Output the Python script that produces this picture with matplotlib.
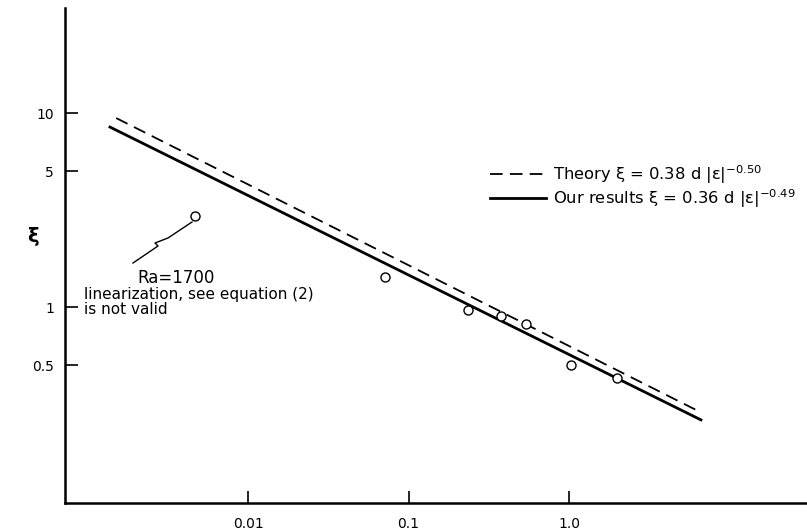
import matplotlib
matplotlib.use("Agg")
import matplotlib.pyplot as plt
from matplotlib.lines import Line2D

plt.rcParams['font.family'] = ['DejaVu Sans']
plt.rcParams['mathtext.default'] = 'regular'

# data
eps_points = [0.00468, 0.0714, 0.235, 0.377, 0.54, 1.03, 1.99]
xi_points = [2.94, 1.43, 0.966, 0.899, 0.817, 0.502, 0.43]

theory_x = [0.00151, 6.55]
theory_y = [9.42, 0.288]
ours_x = [0.00138, 6.64]
ours_y = [8.47, 0.262]

xticks = [0.01, 0.1, 1.0]
xtick_labels = ["0.01", "0.1", "1.0"]
yticks = [0.5, 1, 5, 10]
ytick_labels = ["0.5", "1", "5", "10"]

label_theory = "Theory ξ = 0.38 d |ε|$^{-0.50}$"
label_ours = "Our results ξ = 0.36 d |ε|$^{-0.49}$"
note_title = "Ra=1700"
note_body = "linearization, see equation (2)\nis not valid"

W, H = 807, 531
fig = plt.figure(figsize=(W / 100, H / 100), dpi=100)
ax = fig.add_axes([65 / W, (H - 503) / H, 1 - 65 / W, (503 - 8) / H])
ax.set_xscale('log')
ax.set_yscale('log')
ax.set_xlim(7.24e-4, 30.4)
ax.set_ylim(0.0977, 34.8)

ax.plot(theory_x, theory_y, color='black', lw=1.3, ls=(0, (7, 4)))
ax.plot(ours_x, ours_y, color='black', lw=2.0)
ax.plot(eps_points, xi_points, 'o', mfc='white', mec='black', mew=1.0, ms=6.5, zorder=5)

ax.spines['top'].set_visible(False)
ax.spines['right'].set_visible(False)
for s in ('left', 'bottom'):
    ax.spines[s].set_linewidth(1.8)

ax.minorticks_off()
ax.set_xticks(xticks)
ax.set_xticklabels(xtick_labels)
ax.set_yticks(yticks)
ax.set_yticklabels(ytick_labels)
ax.tick_params(axis='both', direction='in', length=9, width=1.2, labelsize=10)
ax.tick_params(axis='x', pad=10)
ax.tick_params(axis='y', pad=8)

fig.text(33 / W, 1 - 237 / H, "ξ", fontsize=14, fontweight='bold', ha='center', va='center')

handles = [Line2D([], [], color='black', lw=1.3, ls=(0, (7, 4))),
           Line2D([], [], color='black', lw=2.0)]
ax.legend(handles, [label_theory, label_ours], loc='center left',
          bbox_to_anchor=(490 / W, 1 - 186.5 / H), bbox_transform=fig.transFigure,
          frameon=False, borderpad=0, borderaxespad=0, handlelength=3.4,
          handletextpad=0.45, labelspacing=0.1, fontsize=11.8)

# annotation squiggle (figure pixel fractions)
sx = [192, 168, 155, 158, 133]
sy = [222, 238, 243, 246, 263]
fig.add_artist(Line2D([x / W for x in sx], [1 - y / H for y in sy], color='black', lw=1.0))
fig.text(176 / W, 1 - 278 / H, note_title, fontsize=12, ha='center', va='center')
fig.text(84 / W, 1 - 302 / H, note_body, fontsize=11, ha='left', va='center', linespacing=1.0)

fig.savefig("out.png", dpi=100)
